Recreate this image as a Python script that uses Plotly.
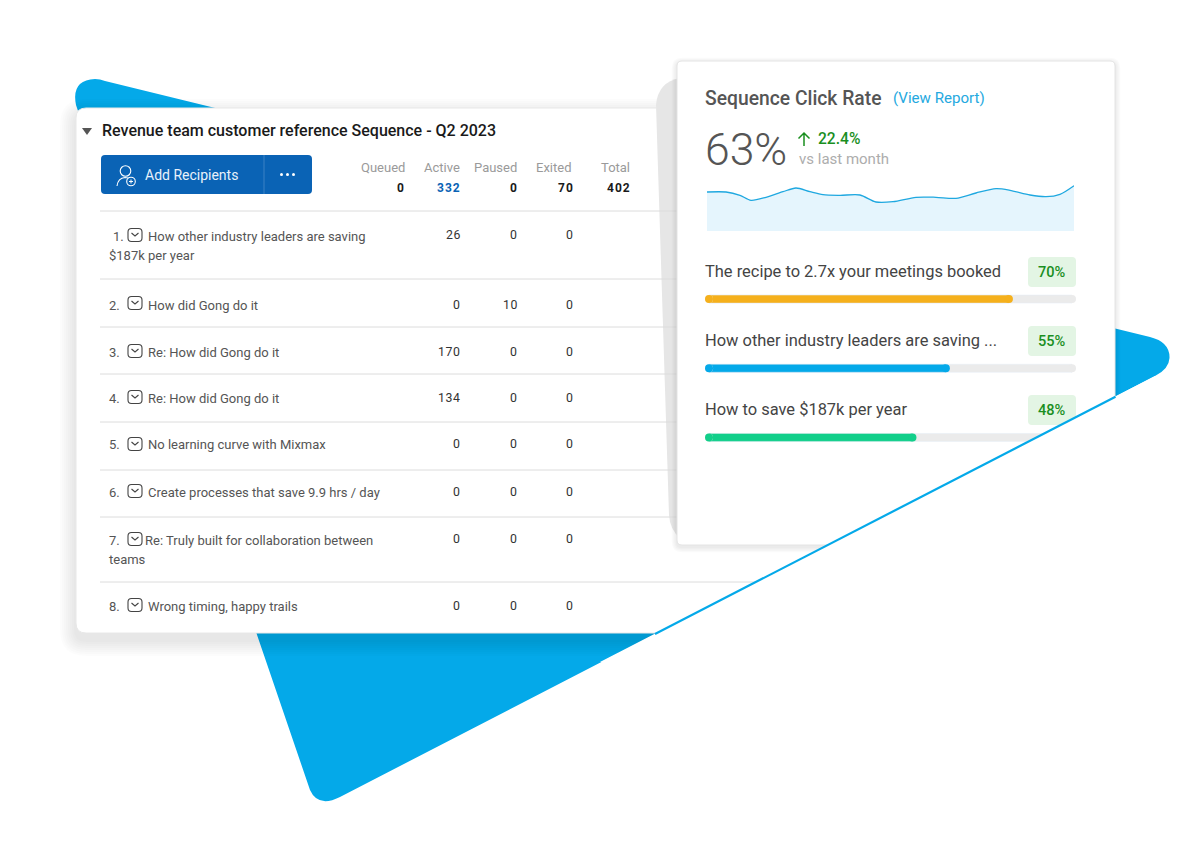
import plotly.graph_objects as go

W, H = 1204, 863
BLUE = "#04a9e9"

# ── Data ──────────────────────────────────────────────────────────────────────
steps = ["How other industry leaders are saving", "How did Gong do it", "Re: How did Gong do it",
         "Re: How did Gong do it", "No learning curve with Mixmax", "Create processes that save 9.9 hrs / day",
         "Re: Truly built for collaboration between", "Wrong timing, happy trails"]
second_lines = {0: "$187k per year", 6: "teams"}
queued = [26, 0, 170, 134, 0, 0, 0, 0]
active = [0, 10, 0, 0, 0, 0, 0, 0]
paused = [0, 0, 0, 0, 0, 0, 0, 0]

stat_names = ["Queued", "Active", "Paused", "Exited", "Total"]
stat_values = ["0", "332", "0", "70", "402"]

subjects = ["The recipe to 2.7x your meetings booked", "How other industry leaders are saving ...",
            "How to save $187k per year"]
subject_badges = ["70%", "55%", "48%"]
subject_fill = [83, 66, 57]
subject_colors = ["#f5b01c", "#04a9e9", "#12cf8a"]

spark_x = [0, 19, 33, 44, 59, 76, 89, 103, 116, 133, 153, 169, 186, 209, 229, 249, 269, 289, 303, 323, 339, 353, 367]
spark_y = [39, 39, 35.7, 30.7, 33.7, 39.3, 43, 39.3, 36.3, 35.7, 36, 29, 29.3, 33.7, 33.7, 32.7, 38, 42.3, 40.7, 36, 34.3, 36.7, 45.3]


# ── Helpers ───────────────────────────────────────────────────────────────────
def rrect(x0, y0, x1, y1, r):
    return (f"M{x0+r},{y0} L{x1-r},{y0} Q{x1},{y0} {x1},{y0+r} L{x1},{y1-r} Q{x1},{y1} {x1-r},{y1} "
            f"L{x0+r},{y1} Q{x0},{y1} {x0},{y1-r} L{x0},{y0+r} Q{x0},{y0} {x0+r},{y0} Z")


shapes = []
def shape(path, fill="rgba(0,0,0,0)", line=None, width=1, layer="below"):
    shapes.append(dict(type="path", path=path, xref="x", yref="y", fillcolor=fill, layer=layer,
                       line=dict(color=line or "rgba(0,0,0,0)", width=width if line else 0)))


def dot(cx, cy, r, fill="rgba(0,0,0,0)", line=None, width=1):
    shapes.append(dict(type="circle", x0=cx - r, x1=cx + r, y0=cy - r, y1=cy + r, xref="x", yref="y", layer="below",
                       fillcolor=fill, line=dict(color=line or "rgba(0,0,0,0)", width=width if line else 0)))


def hline(y, x0, x1, color="#dcdcdc"):
    shape(f"M{x0},{y} L{x1},{y}", line=color, width=1)


def shadow(x0, y0, x1, y1, r, dy, steps=7, spread=2.0, alpha=0.014):
    for i in range(steps, 0, -1):
        s = i * spread
        shape(rrect(x0 - s, y0 - s + dy, x1 + s, y1 + s + dy, r + s), fill=f"rgba(0,0,0,{alpha})")


annotations = []
def label(x, y, text, size=13, color="#555555", anchor="left", weight=400):
    annotations.append(dict(x=x, y=y, xref="x", yref="y", text=text, showarrow=False, xanchor=anchor,
                            yanchor="middle", borderpad=0,
                            font=dict(family="Roboto", size=size, color=color, weight=weight)))


def envelope(cx, cy):
    shape(rrect(cx - 7, cy - 6.5, cx + 7, cy + 6.5, 3.5), line="#444444", width=1.1)
    shape(f"M{cx-3.5},{cy-2} L{cx},{cy+1} L{cx+3.5},{cy-2}", line="#444444", width=1.1)


# ── Background triangle ───────────────────────────────────────────────────────
shape("M105,81 L1150,337 Q1170,342 1169.5,358 Q1169,369 1155,376 L340,797 Q318,808 310,790 "
      "L76,105 Q71,80 95,79 Q100,79 105,81 Z", fill=BLUE)

# ── Table card ────────────────────────────────────────────────────────────────
shadow(76, 108, 900, 633, 10, 7, steps=8, spread=2.0, alpha=0.012)
shape(rrect(76, 108, 900, 633, 10), fill="white", line="#e8e8e8")

# grey blob behind the report card
shape("M680,78 Q658,82 656,105 L669,515 Q670,530 680,538 Z", fill="#e6e6e6")

label(101, 130, "Revenue team customer reference Sequence - Q2 2023", size=16, color="#1a1a1a", weight=500)
shape("M82,128 L92,128 L87,135 Z", fill="#555555")

shape(rrect(101, 155, 312, 194, 4), fill="#0a63b5")
shape("M264,155 L264,194", line="#3b82c4", width=1)
dot(125.5, 171, 5.3, line="white", width=1.1)
shape("M117,186 Q118,178 125,177.5 Q128,177.5 130,179", line="white", width=1.1)
dot(131, 181.5, 4.3, fill="#0a63b5", line="white", width=1.1)
shape("M131,179.5 L131,183.5 M129,181.5 L133,181.5", line="white", width=1)
label(144, 175, "Add Recipients", size=14, color="#e8f1fa")
for x in [281.5, 287.5, 293.5]:
    dot(x, 174.5, 1.5, fill="white")

for name, value, nx, vx in zip(stat_names, stat_values, [406, 461, 518, 572, 631], [406, 462, 519, 575, 632]):
    label(nx, 167, name, size=13, color="#9a9a9a", anchor="right")
    label(vx, 188, f"<span style='letter-spacing:1px'>{value}</span>", size=12,
          color="#0a63b5" if name == "Active" else "#1a1a1a", anchor="right", weight=700)

for y in [211, 279, 327, 374, 422, 470, 517, 582]:
    hline(y, 100, 770)

row_y = [236, 305, 352, 398, 444, 492, 540, 606]
icon_y = [235, 303, 351, 397, 444, 491, 539, 605]
for i, step in enumerate(steps):
    label(112 if i == 0 else 108, row_y[i], f"{i + 1}.", color="#555555")
    envelope(135, icon_y[i])
    label(144 if i == 6 else 147, row_y[i], step)
    if i in second_lines:
        label(108, row_y[i] + 19, second_lines[i])
    for vx, col in zip([462, 519, 575], [queued, active, paused]):
        label(vx, row_y[i] - 1 if i in (0, 6) else row_y[i], f"<span style='letter-spacing:0.6px'>{col[i]}</span>",
              size=12.3, color="#333333", anchor="right")

# ── Report card ───────────────────────────────────────────────────────────────
shadow(677, 61, 1115, 545, 5, 2, steps=4, spread=1.3, alpha=0.02)
shape(rrect(677, 61, 1115, 545, 5), fill="white", line="#e4e4e4")

label(704, 98, "Sequence Click Rate", size=19.3, color="#555555", weight=500)
label(892, 98, "(View Report)", size=15.1, color="#25a9e0")
label(704, 150, "63%", size=44.5, color="#555555", weight=300)
shape("M804,146 L804,133 M798.5,138.5 L804,133 L809.5,138.5", line="#1a8f1f", width=1.5)
label(817, 139, "22.4%", size=15.6, color="#1a8f1f", weight=500)
label(798, 159, "vs last month", size=15, color="#adadad")

badge_y = [272, 341, 410]
for text, badge, y in zip(subjects, subject_badges, badge_y):
    shape(rrect(1028, y - 15, 1076, y + 15, 4), fill="#e3f5e4")
    label(704, y - 1, text, size=16.45, color="#444444")
    label(1067, y, badge, size=14.6, color="#1a8f1f", anchor="right", weight=500)

# white area below the diagonal hides whatever the two cards have there
shape("M1155,376 L600,662 L1155,662 Z", fill="white", layer="above")
shape("M1115.5,396.8 L655,634", line=BLUE, width=2.2, layer="above")

# ── Figure ────────────────────────────────────────────────────────────────────
fig = go.Figure()
fig.add_scatter(x=[0, W], y=[0, H], mode="markers", marker=dict(opacity=0), hoverinfo="skip", showlegend=False)

fig.add_scatter(x=spark_x, y=spark_y, mode="lines", line=dict(color="#1fa8e0", width=1.3, shape="spline", smoothing=0.8),
                fill="tozeroy", fillcolor="#e5f5fd", xaxis="x3", yaxis="y3", hoverinfo="skip", showlegend=False)

# progress bars: the bar runs between two round end caps, 4px is 1.08 on the 0-100 axis
CAP = 1.08
for vals, colors in [([100] * len(subjects), ["#ebebeb"] * len(subjects)), (subject_fill, subject_colors)]:
    fig.add_bar(x=[v - 2 * CAP for v in vals], base=CAP, y=subjects, orientation="h", marker_color=colors,
                width=0.116, xaxis="x2", yaxis="y2", hoverinfo="skip", showlegend=False)
    fig.add_scatter(x=[CAP] * len(vals) + [v - CAP for v in vals], y=subjects * 2, mode="markers",
                    marker=dict(color=colors * 2, size=8, line_width=0), cliponaxis=False,
                    xaxis="x2", yaxis="y2", hoverinfo="skip", showlegend=False)

hidden = dict(visible=False, fixedrange=True)
fig.update_layout(
    width=W, height=H, margin=dict(l=0, r=0, t=0, b=0), paper_bgcolor="white", plot_bgcolor="rgba(0,0,0,0)",
    barmode="overlay", showlegend=False,
    xaxis=dict(range=[0, W], domain=[0, 1], **hidden),
    yaxis=dict(range=[H, 0], domain=[0, 1], **hidden),
    xaxis2=dict(range=[0, 100], domain=[705 / W, 1076 / W], anchor="y2", **hidden),
    yaxis2=dict(type="category", categoryorder="array", categoryarray=subjects, range=[2.5, -0.5],
                domain=[1 - 472 / H, 1 - 264.5 / H], anchor="x2", **hidden),
    xaxis3=dict(range=[0, 367], domain=[707 / W, 1074 / W], anchor="y3", **hidden),
    yaxis3=dict(range=[0, 47], domain=[1 - 231 / H, 1 - 184 / H], anchor="x3", **hidden),
    shapes=shapes, annotations=annotations,
)
fig.write_html("out.html", config=dict(displayModeBar=False),
               post_script="document.body.style.margin='0';document.documentElement.style.overflow='hidden';")
